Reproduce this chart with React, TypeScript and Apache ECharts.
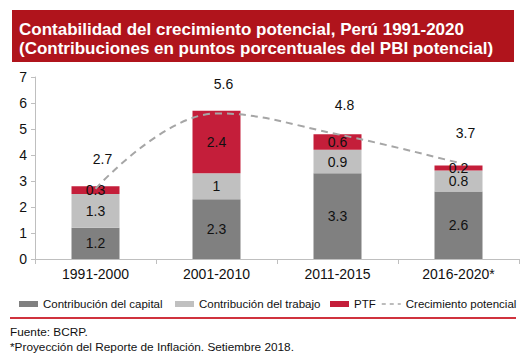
import React, { useEffect, useRef } from "react";
import * as echarts from "echarts";

const categories = ["1991-2000", "2001-2010", "2011-2015", "2016-2020*"];
const capital = [1.2, 2.3, 3.3, 2.6];
const trabajo = [1.3, 1.0, 0.9, 0.8];
const ptf = [0.3, 2.4, 0.6, 0.2];
const crecimiento = [2.7, 5.6, 4.8, 3.7];
const yTicks = { min: 0, max: 7, interval: 1 };
const seriesNames = [
  "Contribución del capital",
  "Contribución del trabajo",
  "PTF",
  "Crecimiento potencial",
];

const FONT = "'Liberation Sans', Arial, sans-serif";

export default function App() {
  const ref = useRef<HTMLDivElement>(null);
  useEffect(() => {
    document.body.style.margin = "0";
    const chart = echarts.init(ref.current!, null, { renderer: "svg" });
    const barLabel = {
      show: true,
      position: "inside",
      color: "#111",
      fontSize: 14,
      fontFamily: FONT,
    };
    const legendBase = {
      top: 293,
      itemWidth: 19,
      itemHeight: 6,
      textStyle: { fontSize: 11.5, color: "#111", fontFamily: FONT },
    };
    const legendLefts = [14, 170, 325, 376];
    chart.setOption({
      animation: false,
      textStyle: { fontFamily: FONT },
      graphic: [
        {
          type: "rect",
          shape: { x: 12, y: 10, width: 502, height: 52 },
          style: { fill: "#b0141c" },
        },
        {
          type: "text",
          x: 19,
          y: 20,
          style: {
            text: "Contabilidad del crecimiento potencial, Perú 1991-2020\n(Contribuciones en puntos porcentuales del PBI potencial)",
            fill: "#fff",
            font: `bold 17px ${FONT}`,
            lineHeight: 19,
          },
        },
        {
          type: "line",
          shape: { x1: 10, y1: 318, x2: 516, y2: 318 },
          style: { stroke: "#d0333e", lineWidth: 2 },
        },
        {
          type: "text",
          x: 10,
          y: 324,
          style: {
            text: "Fuente: BCRP.\n*Proyección del Reporte de Inflación. Setiembre 2018.",
            fill: "#111",
            font: `11.8px ${FONT}`,
            lineHeight: 15,
          },
        },
      ],
      grid: { left: 35, right: 5, top: 77, height: 182 },
      legend: seriesNames.map((n, i) => ({
        ...legendBase,
        left: legendLefts[i],
        data: [
          i < 3
            ? { name: n, icon: "rect" }
            : {
                name: n,
                itemStyle: { opacity: 0 },
                lineStyle: { type: [4, 4], width: 1.5, color: "#a6a6a6" },
              },
        ],
      })),
      xAxis: {
        type: "category",
        data: categories,
        axisLine: { lineStyle: { color: "#bfbfbf", width: 1 } },
        axisTick: { show: true, length: 5, lineStyle: { color: "#bfbfbf" } },
        axisLabel: { color: "#111", fontSize: 14, margin: 8, fontFamily: FONT },
      },
      yAxis: {
        type: "value",
        min: yTicks.min,
        max: yTicks.max,
        interval: yTicks.interval,
        splitLine: { show: false },
        axisLine: { show: true, lineStyle: { color: "#bfbfbf", width: 1 } },
        axisTick: { show: true, length: 4, lineStyle: { color: "#bfbfbf" } },
        axisLabel: { color: "#111", fontSize: 14, margin: 8, fontFamily: FONT },
      },
      series: [
        {
          name: seriesNames[0],
          type: "bar",
          stack: "t",
          barWidth: 48,
          data: capital,
          itemStyle: { color: "#808080" },
          label: barLabel,
        },
        {
          name: seriesNames[1],
          type: "bar",
          stack: "t",
          barWidth: 48,
          data: trabajo,
          itemStyle: { color: "#c0c0c0" },
          label: barLabel,
        },
        {
          name: seriesNames[2],
          type: "bar",
          stack: "t",
          barWidth: 48,
          data: ptf,
          itemStyle: { color: "#c41e3a" },
          label: barLabel,
        },
        {
          name: seriesNames[3],
          type: "line",
          data: crecimiento,
          smooth: 0.4,
          symbol: "circle",
          symbolSize: 1,
          showSymbol: true,
          z: 5,
          lineStyle: { color: "#a6a6a6", width: 2, type: [7, 5] },
          itemStyle: { color: "rgba(0,0,0,0)" },
          label: {
            show: true,
            position: "top",
            distance: 22,
            offset: [7, 0],
            color: "#111",
            fontSize: 14,
            fontFamily: FONT,
          },
        },
      ],
    });
    return () => chart.dispose();
  }, []);
  return <div ref={ref} style={{ width: 524, height: 363 }} />;
}
